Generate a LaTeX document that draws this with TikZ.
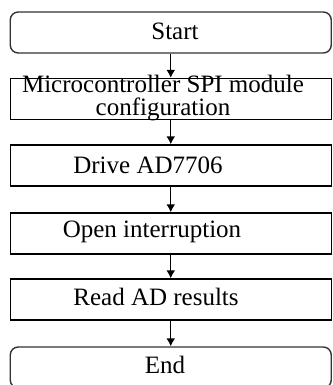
\documentclass[tikz,border=0pt]{standalone}
\usepackage{fontspec}
\setmainfont{Liberation Serif}
\usetikzlibrary{arrows,arrows.meta}
\usetikzlibrary{positioning}
\tikzset{
    stepbox/.style={draw=black, minimum width=160.5pt, minimum height=20.5pt, inner sep=0pt},
    termbox/.style={stepbox, rounded corners=4pt, draw=black!80},
    steptext/.style={inner sep=0pt, font=\fontsize{12.5}{11.5}\selectfont, align=center},
    flow/.style={draw=black, ->, >={Latex[length=4pt,width=4.5pt]}},
}

\begin{document}
\begin{tikzpicture}[x=0.5pt,y=-0.5pt,line width=0.7 pt]
\useasboundingbox (0,0) rectangle (332,385);

\node [termbox] (start) at (170.75,32.5) {};
\node [steptext] (starttxt) at (175,31) {Start};

\node [stepbox] (spi) at (170.75,99) {};
\node [steptext] (spitxt) at (163,98) {Microcontroller SPI module\\configuration};

\node [stepbox] (drive) at (170.75,165.5) {};
\node [steptext] (drivetxt) at (148,165) {Drive AD7706};

\node [stepbox] (irq) at (170.75,233.5) {};
\node [steptext] (irqtxt) at (152,232) {Open interruption};

\node [stepbox] (read) at (170.75,299.5) {};
\node [steptext] (readtxt) at (156,297) {Read AD results};

\node [termbox] (finish) at (170.75,367.5) {};
\node [steptext] (finishtxt) at (165,365) {End};

\draw [flow] (start) -- (spi);
\draw [flow] (spi) -- (drive);
\draw [flow] (drive) -- (irq);
\draw [flow] (irq) -- (read);
\draw [flow] (read) -- (finish);
\end{tikzpicture}
\end{document}
